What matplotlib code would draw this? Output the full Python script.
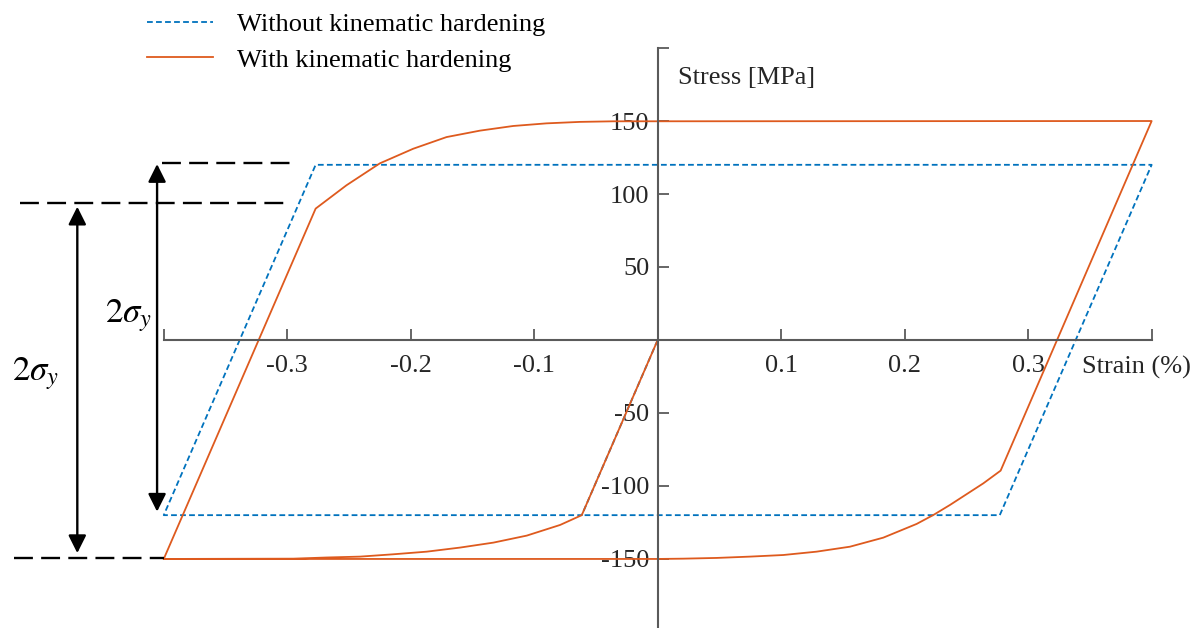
import numpy as np
import matplotlib.pyplot as plt
from matplotlib.ticker import FixedLocator, FixedFormatter

plt.rcParams['font.family'] = ['Liberation Serif', 'DejaVu Serif']
plt.rcParams['mathtext.fontset'] = 'stix'

# strain (%) / stress (MPa)
strain_perfect = [0.0, -0.0615, -0.4, -0.277, 0.4, 0.277, -0.0615]
stress_perfect = [0.0, -120, -120, 120, 120, -120, -120]

strain_kin = [0.0, -0.0615, -0.079, -0.106, -0.133, -0.160, -0.187, -0.214,
              -0.241, -0.268, -0.295, -0.4,
              -0.277, -0.252, -0.225, -0.198, -0.171, -0.144, -0.117, -0.090,
              -0.063, -0.036, 0.4,
              0.2777, 0.2637, 0.2367, 0.2232, 0.2097, 0.1827, 0.1557, 0.1287,
              0.1017, 0.0747, 0.0478, 0.0207, 0.0, -0.4]
stress_kin = [0.0, -120, -126.7, -134, -138.8, -142.2, -145, -146.8,
              -148.4, -149, -149.8, -150,
              90, 106, 121, 131, 139, 143.4, 146.6, 148.4,
              149.4, 149.8, 150,
              -89.5, -98.2, -113, -119.9, -126, -135.4, -141.6, -145,
              -147.3, -148.4, -149.3, -149.8, -150, -150]

x_ticks = [-0.4, -0.3, -0.2, -0.1, 0.1, 0.2, 0.3, 0.4]
x_labels = ['', '-0.3', '-0.2', '-0.1', '0.1', '0.2', '0.3', '']
y_ticks = [-150, -100, -50, 50, 100, 150, 200]
y_labels = ['-150', '-100', '-50', '50', '100', '150', '']

blue = '#0072BD'
orange = '#DE5A1E'
axis_col = '#5a5a5a'
fs = 19

fig = plt.figure(figsize=(11.95, 6.28), dpi=100)
ax = fig.add_axes([0, 0, 1, 1])
ax.set_xlim(-0.5326, 0.4351)
ax.set_ylim(-197.3, 232.9)

ax.plot(strain_perfect, stress_perfect, color=blue, lw=1.3, dashes=(3.2, 1.8),
        label='Without kinematic hardening')
ax.plot(strain_kin, stress_kin, color=orange, lw=1.3,
        label='With kinematic hardening')

for s in ['top', 'right']:
    ax.spines[s].set_visible(False)
ax.spines['left'].set_position(('data', 0))
ax.spines['bottom'].set_position(('data', 0))
ax.spines['left'].set_bounds(-200, 200)
ax.spines['bottom'].set_bounds(-0.4, 0.4)
for s in ['left', 'bottom']:
    ax.spines[s].set_color(axis_col)
    ax.spines[s].set_linewidth(1.5)

ax.xaxis.set_major_locator(FixedLocator(x_ticks))
ax.xaxis.set_major_formatter(FixedFormatter(x_labels))
ax.yaxis.set_major_locator(FixedLocator(y_ticks))
ax.yaxis.set_major_formatter(FixedFormatter(y_labels))
ax.tick_params(axis='both', direction='in', length=8, width=1.3, color=axis_col,
               labelsize=fs, labelcolor='#262626')
ax.tick_params(axis='x', pad=11)
ax.tick_params(axis='y', pad=6)

ax.text(0.0164, 179.5, 'Stress [MPa]', fontsize=fs, color='#262626', va='center', ha='left')
ax.text(0.3436, -18.5, 'Strain (%)', fontsize=fs, color='#262626', va='center', ha='left')

# 2 sigma_y annotations
dash_kw = dict(color='black', lw=1.7, dashes=(8, 3.5), clip_on=False)
ax.plot([-0.516, -0.302], [94, 94], **dash_kw)
ax.plot([-0.4015, -0.295], [121.4, 121.4], **dash_kw)
ax.plot([-0.521, -0.4], [-149.5, -149.5], **dash_kw)

arrow_kw = dict(arrowstyle='<|-|>', color='black', lw=1.7, mutation_scale=27,
                shrinkA=0, shrinkB=0)
ax.annotate('', xy=(-0.47, 91.3), xytext=(-0.47, -146), arrowprops=arrow_kw)
ax.annotate('', xy=(-0.4054, 120.5), xytext=(-0.4054, -117.6), arrowprops=arrow_kw)

ax.text(-0.5042, -23.3, r'$2\sigma_y$', fontsize=25, ha='center', va='center')
ax.text(-0.4289, 16.4, r'$2\sigma_y$', fontsize=25, ha='center', va='center')

ax.legend(loc='upper left', bbox_to_anchor=(147 / 1195, 1 - 13 / 628),
          bbox_transform=fig.transFigure, frameon=False, fontsize=fs,
          borderpad=0, borderaxespad=0, handlelength=2.5, handletextpad=0.9,
          labelspacing=0.44)

fig.savefig('out.png', dpi=100)
